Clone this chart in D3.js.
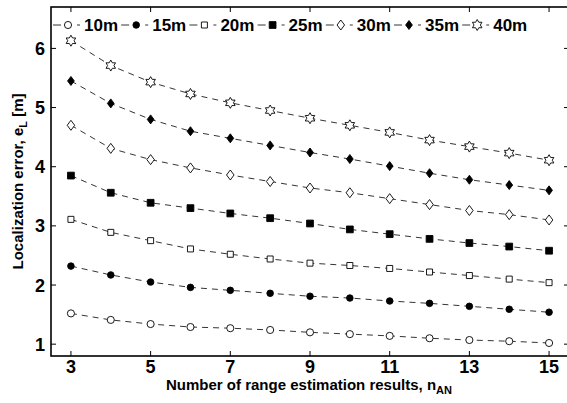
<!DOCTYPE html>
<html>
<head>
<meta charset="utf-8">
<script src="https://cdn.jsdelivr.net/npm/d3@7"></script>
<style>
  body { margin: 0; background: #fff; }
  svg { display: block; font-family: "Liberation Sans", Arial, sans-serif; }
</style>
</head>
<body>
<svg id="chart" width="567" height="403"></svg>
<script>
// x values: number of range estimation results
const nAN = [3, 4, 5, 6, 7, 8, 9, 10, 11, 12, 13, 14, 15];
const seriesNames = ["10m", "15m", "20m", "25m", "30m", "35m", "40m"];

// localization error per series
const err10 = [1.52, 1.41, 1.34, 1.29, 1.27, 1.24, 1.20, 1.17, 1.14, 1.10, 1.07, 1.05, 1.02];
const err15 = [2.32, 2.17, 2.05, 1.96, 1.91, 1.86, 1.81, 1.78, 1.73, 1.69, 1.64, 1.59, 1.54];
const err20 = [3.11, 2.89, 2.75, 2.61, 2.52, 2.44, 2.37, 2.33, 2.28, 2.22, 2.16, 2.10, 2.04];
const err25 = [3.85, 3.56, 3.39, 3.30, 3.21, 3.13, 3.04, 2.94, 2.86, 2.78, 2.71, 2.65, 2.58];
const err30 = [4.70, 4.31, 4.12, 3.98, 3.86, 3.75, 3.64, 3.56, 3.46, 3.36, 3.26, 3.19, 3.10];
const err35 = [5.45, 5.07, 4.80, 4.60, 4.48, 4.36, 4.24, 4.13, 4.01, 3.89, 3.78, 3.69, 3.60];
const err40 = [6.13, 5.71, 5.43, 5.23, 5.08, 4.95, 4.82, 4.70, 4.58, 4.45, 4.34, 4.23, 4.11];
const allErr = [err10, err15, err20, err25, err30, err35, err40];

const xTicks = [3, 5, 7, 9, 11, 13, 15];
const yTicks = [1, 2, 3, 4, 5, 6];

const svg = d3.select("#chart");
const plotL = 51, plotR = 569, plotT = 7, plotB = 356;

const x = d3.scaleLinear().domain([2.5, 15.5]).range([plotL, plotR]);
const y = d3.scaleLinear().domain([0.8, 6.7]).range([plotB, plotT]);

// marker shapes, MATLAB style
const markers = [
  { type: d3.symbolCircle, fill: "#fff", size: 40 },
  { type: d3.symbolCircle, fill: "#000", size: 34 },
  { type: d3.symbolSquare, fill: "#fff", size: 36 },
  { type: d3.symbolSquare, fill: "#000", size: 46 },
  { type: "diamond", fill: "#fff", size: 5 },
  { type: "diamond", fill: "#000", size: 4.5 },
  { type: "hexagram", fill: "#fff", size: 5.5 }
];

function markerPath(m) {
  if (m.type === "diamond") {
    const s = m.size;
    return `M0,${-s}L${s * 0.75},0L0,${s}L${-s * 0.75},0Z`;
  }
  if (m.type === "hexagram") {
    const r = m.size, outline = [];
    for (let i = 0; i < 12; i++) {
      const a = -Math.PI / 2 + i * Math.PI / 6;
      const rr = i % 2 === 0 ? r : r * 0.577;
      outline.push([rr * Math.cos(a), rr * Math.sin(a)]);
    }
    return "M" + outline.map(p => p.join(",")).join("L") + "Z";
  }
  return d3.symbol().type(m.type).size(m.size)();
}

const g = svg.append("g");

// axes box
g.append("rect")
  .attr("x", plotL).attr("y", plotT)
  .attr("width", plotR - plotL).attr("height", plotB - plotT)
  .attr("fill", "none").attr("stroke", "#000").attr("stroke-width", 1.6);

// ticks (inward, all four sides)
const tl = 5;
xTicks.forEach(t => {
  g.append("line").attr("x1", x(t)).attr("x2", x(t)).attr("y1", plotB).attr("y2", plotB - tl)
    .attr("stroke", "#000").attr("stroke-width", 1);
  g.append("line").attr("x1", x(t)).attr("x2", x(t)).attr("y1", plotT).attr("y2", plotT + tl)
    .attr("stroke", "#000").attr("stroke-width", 1);
  g.append("text").attr("x", x(t)).attr("y", 373)
    .attr("text-anchor", "middle").attr("font-size", 18).attr("font-weight", "bold")
    .text(t);
});
yTicks.forEach(t => {
  g.append("line").attr("x1", plotL).attr("x2", plotL + tl).attr("y1", y(t)).attr("y2", y(t))
    .attr("stroke", "#000").attr("stroke-width", 1);
  g.append("line").attr("x1", plotR).attr("x2", plotR - tl).attr("y1", y(t)).attr("y2", y(t))
    .attr("stroke", "#000").attr("stroke-width", 1);
  g.append("text").attr("x", 45).attr("y", y(t) + 6.5)
    .attr("text-anchor", "end").attr("font-size", 18).attr("font-weight", "bold")
    .text(t);
});

// lines and markers
const line = d3.line().x((d, i) => x(nAN[i])).y(d => y(d));
allErr.forEach((vals, k) => {
  g.append("path").attr("d", line(vals))
    .attr("fill", "none").attr("stroke", "#000").attr("stroke-width", 0.8)
    .attr("stroke-dasharray", "6,5");
  g.selectAll(null).data(vals).enter().append("path")
    .attr("d", markerPath(markers[k]))
    .attr("transform", (d, i) => `translate(${x(nAN[i])},${y(d)})`)
    .attr("fill", markers[k].fill).attr("stroke", "#000").attr("stroke-width", 0.9);
});

// legend
const legY = 25;
seriesNames.forEach((name, k) => {
  const mx = 68 + k * 68.2;
  g.append("line").attr("x1", mx - 15).attr("x2", mx - 7).attr("y1", legY).attr("y2", legY)
    .attr("stroke", "#000").attr("stroke-width", 0.8);
  g.append("line").attr("x1", mx + 9).attr("x2", mx + 12).attr("y1", legY).attr("y2", legY)
    .attr("stroke", "#000").attr("stroke-width", 0.8);
  g.append("path").attr("d", markerPath(markers[k]))
    .attr("transform", `translate(${mx},${legY})`)
    .attr("fill", markers[k].fill).attr("stroke", "#000").attr("stroke-width", 0.9);
  g.append("text").attr("x", mx + 16).attr("y", legY + 6)
    .attr("font-size", 17).attr("font-weight", "bold").text(name);
});

// axis titles
const xt = svg.append("text").attr("x", (plotL + 567) / 2).attr("y", 390)
  .attr("text-anchor", "middle").attr("font-size", 15).attr("font-weight", "bold");
xt.append("tspan").text("Number of range estimation results, n");
xt.append("tspan").attr("font-size", 11).attr("dy", 4).text("AN");

const yt = svg.append("text")
  .attr("transform", `translate(23,${(plotT + plotB) / 2}) rotate(-90)`)
  .attr("text-anchor", "middle").attr("font-size", 15).attr("font-weight", "bold");
yt.append("tspan").text("Localization error, e");
yt.append("tspan").attr("font-size", 11).attr("dy", 4).text("L");
yt.append("tspan").attr("dy", -4).text(" [m]");
</script>
</body>
</html>
